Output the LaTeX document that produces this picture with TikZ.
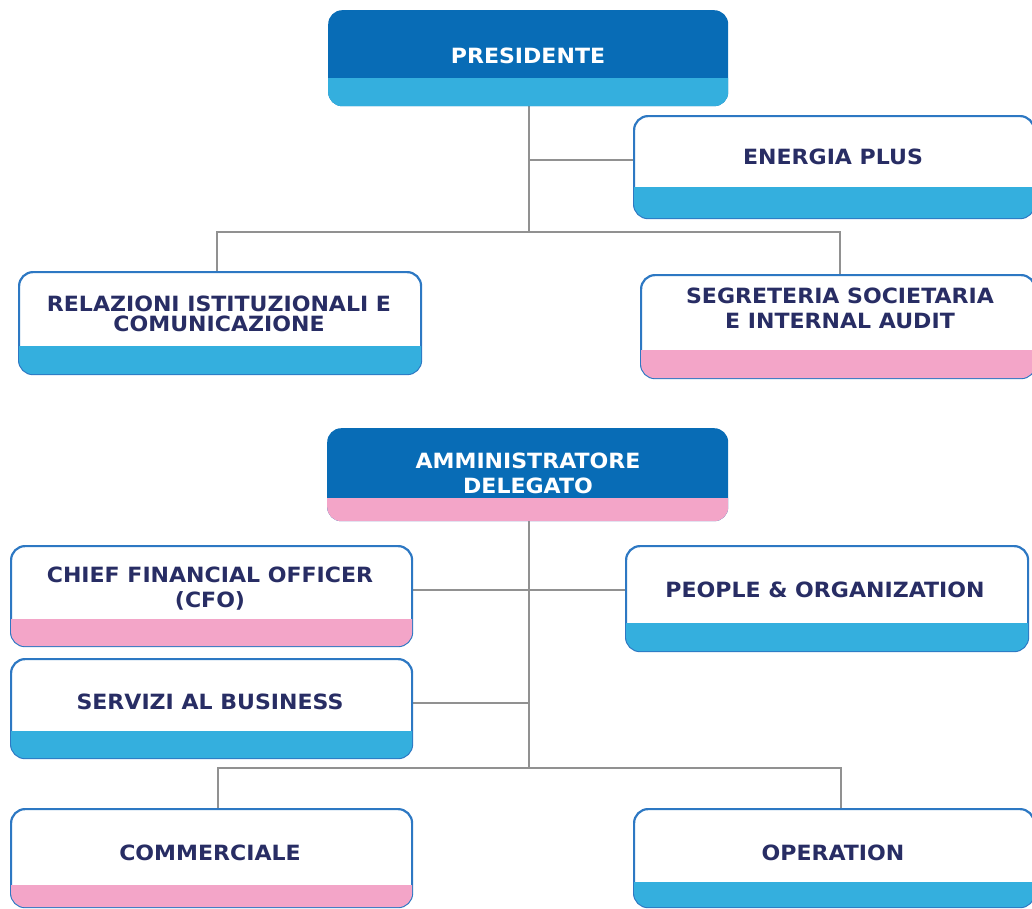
\documentclass[tikz,border=0pt]{standalone}
\usepackage{fontspec}
\setmainfont{DejaVu Sans}[FakeStretch=1.05]
\usetikzlibrary{backgrounds}
\definecolor{darkblue}{RGB}{8,108,182}
\definecolor{lightblue}{RGB}{52,175,222}
\definecolor{pinkband}{RGB}{243,165,200}
\definecolor{navy}{RGB}{40,45,100}
\definecolor{boxline}{RGB}{45,120,195}
\definecolor{conngray}{RGB}{145,145,145}
\begin{document}
\begin{tikzpicture}[x=1pt,y=-1pt,
  wbox/.style={draw=boxline, line width=2.2pt, fill=white, rounded corners=14pt, anchor=north west, inner sep=0pt},
  dbox/.style={fill=darkblue, rounded corners=14pt, anchor=north west, inner sep=0pt},
  bandfill/.style 2 args={postaction={path picture={\fill[#1, sharp corners] ([xshift=-3pt, yshift=-3pt]path picture bounding box.south west) rectangle ([xshift=3pt, yshift=#2]path picture bounding box.south east);}}},
  txt/.style={font=\bfseries\fontsize{21}{25}\selectfont, text=navy, align=center, inner sep=0pt},
  wtxt/.style={txt, text=white},
  conn/.style={draw=conngray, line width=2.5pt}
]
\useasboundingbox (0,0) rectangle (1032,908);
% boxes
\node[dbox, bandfill={lightblue}{28pt}, minimum width=400pt, minimum height=96pt] (pres) at (328,10) {};
\node[wbox, bandfill={lightblue}{31pt}, minimum width=400pt, minimum height=102pt] (ener) at (633,115) {};
\node[wbox, bandfill={lightblue}{28pt}, minimum width=402pt, minimum height=102pt] (rel) at (18,271) {};
\node[wbox, bandfill={pinkband}{28pt}, minimum width=394pt, minimum height=103pt] (seg) at (640,274) {};
\node[dbox, bandfill={pinkband}{23pt}, minimum width=401pt, minimum height=93pt] (amm) at (327,428) {};
\node[wbox, bandfill={pinkband}{27pt}, minimum width=401pt, minimum height=100pt] (cfo) at (10,545) {};
\node[wbox, bandfill={lightblue}{28pt}, minimum width=402pt, minimum height=105pt] (people) at (625,545) {};
\node[wbox, bandfill={lightblue}{27pt}, minimum width=401pt, minimum height=99pt] (serv) at (10,658) {};
\node[wbox, bandfill={pinkband}{22pt}, minimum width=401pt, minimum height=98pt] (comm) at (10,808) {};
\node[wbox, bandfill={lightblue}{25pt}, minimum width=400pt, minimum height=98pt] (oper) at (633,808) {};
% texts
\node[wtxt] (pres-t) at (528,56) {PRESIDENTE};
\node[txt] (ener-t) at (833,157) {ENERGIA PLUS};
\node[txt, font=\bfseries\fontsize{21}{20.5}\selectfont] (rel-t) at (219,314) {RELAZIONI ISTITUZIONALI E\\COMUNICAZIONE};
\node[txt] (seg-t) at (840,308) {SEGRETERIA SOCIETARIA\\E INTERNAL AUDIT};
\node[wtxt] (amm-t) at (528,473) {AMMINISTRATORE\\DELEGATO};
\node[txt] (cfo-t) at (210,589) {CHIEF FINANCIAL OFFICER\\(CFO)};
\node[txt] (people-t) at (825,590) {PEOPLE \& ORGANIZATION};
\node[txt] (serv-t) at (210,702) {SERVIZI AL BUSINESS};
\node[txt] (comm-t) at (210,853) {COMMERCIALE};
\node[txt] (oper-t) at (833,853) {OPERATION};
% connectors
\coordinate (j1) at (529,232);
\coordinate (e1) at (529,160);
\coordinate (r1) at (217,232);
\coordinate (s1) at (840,232);
\coordinate (j2) at (529,768);
\coordinate (p1) at (529,590);
\coordinate (b1) at (529,703);
\coordinate (c1) at (218,768);
\coordinate (c2) at (841,768);
\begin{scope}[on background layer]
\draw[conn] (pres.south -| j1) -- (j1);
\draw[conn] (e1) -- (e1 -| ener.west);
\draw[conn] (rel.north -| r1) -- (r1) -- (s1) -- (seg.north -| s1);
\draw[conn] (amm.south -| j2) -- (j2);
\draw[conn] (cfo.east |- p1) -- (people.west |- p1);
\draw[conn] (serv.east |- b1) -- (b1);
\draw[conn] (comm.north -| c1) -- (c1) -- (c2) -- (oper.north -| c2);
\end{scope}
\end{tikzpicture}
\end{document}
